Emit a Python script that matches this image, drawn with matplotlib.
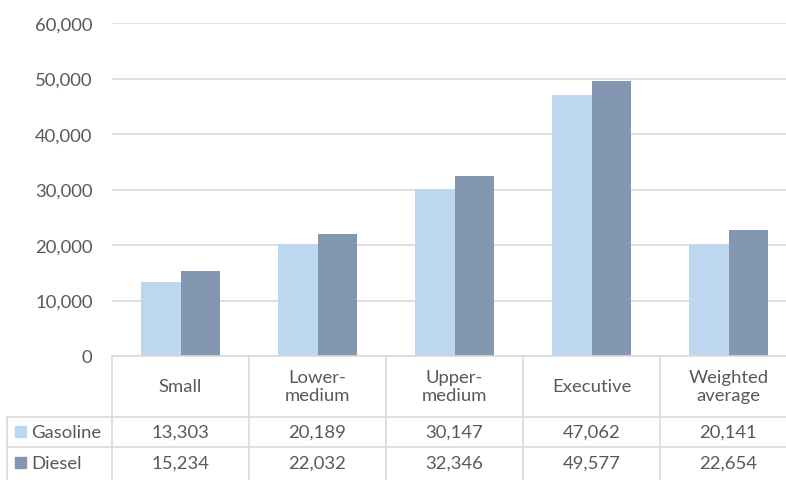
import numpy as np
import matplotlib.pyplot as plt
from matplotlib.transforms import blended_transform_factory

# data
categories = ["Small", "Lower-\nmedium", "Upper-\nmedium", "Executive", "Weighted\naverage"]
gasoline = [13303, 20189, 30147, 47062, 20141]
diesel = [15234, 22032, 32346, 49577, 22654]
series_names = ["Gasoline", "Diesel"]
yticks = [0, 10000, 20000, 30000, 40000, 50000, 60000]

plt.rcParams["font.family"] = ["Lato", "DejaVu Sans"]
text_color = "#595959"
grid_color = "#D9D9D9"
colors = ["#BDD7EE", "#8497B0"]
fs = 13.3

W, H = 786, 481
fig = plt.figure(figsize=(W / 100, H / 100), dpi=100)


def fx(px):
    return px / W


def fy(py):
    return 1 - py / H


# axes reaches slightly past the right edge, like the cropped original
ax_left, ax_right, ax_top, ax_bottom = 112, 797, 24, 357
ax = fig.add_axes([fx(ax_left), fy(ax_bottom), fx(ax_right - ax_left), (ax_bottom - ax_top) / H])

x = np.arange(len(categories))
bw = 0.285
ax.bar(x - bw / 2, gasoline, bw, color=colors[0], zorder=2)
ax.bar(x + bw / 2, diesel, bw, color=colors[1], zorder=2)

ax.set_xlim(-0.5, len(categories) - 0.5)
ax.set_ylim(0, 60000)
ax.set_yticks(yticks)
ax.set_yticklabels([f"{v:,}" for v in yticks])
ax.tick_params(axis="y", length=0, pad=14, labelsize=fs, labelcolor=text_color)
ax.set_xticks([])
ax.grid(axis="y", color=grid_color, lw=1.2, zorder=0)
for s in ax.spines.values():
    s.set_visible(False)

# data table under the axes
tr = blended_transform_factory(ax.transData, fig.transFigure)
line_kw = dict(color=grid_color, lw=1.2, clip_on=False)

ax.plot([-0.5, 4.6], [fy(357)] * 2, transform=tr, **line_kw)
for yy in [418, 448]:
    fig.add_artist(plt.Line2D([fx(7), 1], [fy(yy)] * 2, **line_kw))
fig.add_artist(plt.Line2D([fx(7), fx(7)], [fy(418), 0], **line_kw))
for b in np.arange(-0.5, len(categories), 1.0):
    ax.plot([b, b], [fy(357), 0], transform=tr, **line_kw)

txt_kw = dict(transform=tr, ha="center", va="center", fontsize=fs, color=text_color,
              linespacing=1.2)
for i, cat in enumerate(categories):
    ax.text(i, fy(387), cat, **txt_kw)
    ax.text(i, fy(433), f"{gasoline[i]:,}", **txt_kw)
    ax.text(i, fy(464), f"{diesel[i]:,}", **txt_kw)

for name, col, yc in zip(series_names, colors, [433, 464]):
    fig.add_artist(plt.Rectangle((fx(15), fy(yc + 5)), fx(11), 11 / H, color=col))
    fig.text(fx(31), fy(yc), name, ha="left", va="center", fontsize=fs, color=text_color)

fig.savefig("out.png", dpi=100)
